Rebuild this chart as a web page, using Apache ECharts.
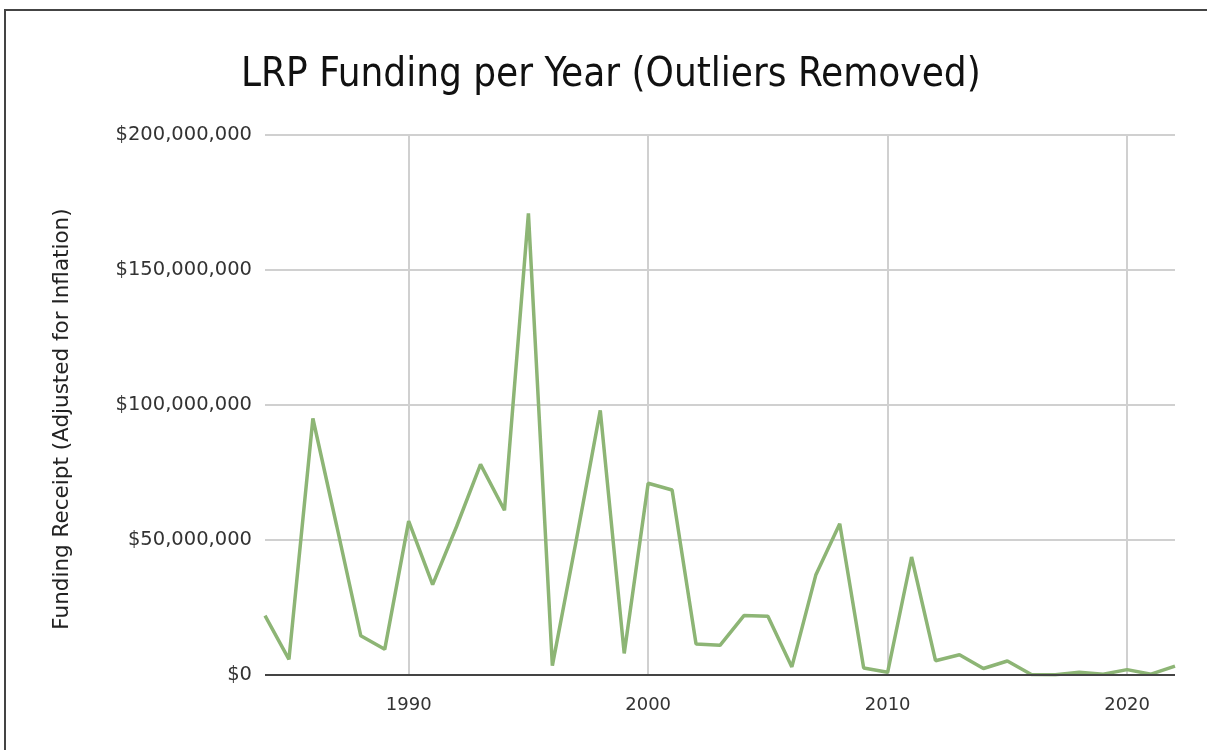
<!DOCTYPE html>
<html>
<head>
<meta charset="utf-8">
<script src="https://cdn.jsdelivr.net/npm/echarts@6/dist/echarts.min.js"></script>
<style>
html,body{margin:0;padding:0;background:#fff;width:1207px;height:750px;overflow:hidden;}
#frame{position:absolute;left:4px;top:9px;width:1220px;height:760px;border:2px solid #444;box-sizing:border-box;}
#chart{position:absolute;left:0;top:0;width:1207px;height:750px;}
</style>
</head>
<body>
<div id="frame"></div>
<div id="chart"></div>
<script>
const years = [1984,1985,1986,1987,1988,1989,1990,1991,1992,1993,1994,1995,1996,1997,1998,1999,2000,2001,2002,2003,2004,2005,2006,2007,2008,2009,2010,2011,2012,2013,2014,2015,2016,2017,2018,2019,2020,2021,2022];
const funding = [22000000,5800000,95000000,55000000,14500000,9500000,57000000,33500000,55000000,78000000,61000000,171000000,3500000,50000000,98000000,8000000,71000000,68500000,11500000,11000000,22000000,21800000,3000000,37000000,56000000,2600000,1000000,43700000,5300000,7500000,2400000,5200000,200000,100000,1000000,300000,2000000,300000,3300000];
const yTicks = [0,50000000,100000000,150000000,200000000];
const titleText = 'LRP Funding per Year (Outliers Removed)';
const yAxisName = 'Funding Receipt (Adjusted for Inflation)';

const chart = echarts.init(document.getElementById('chart'), null, {renderer:'canvas'});
const fmt = v => '$' + Math.round(v).toString().replace(/\B(?=(\d{3})+(?!\d))/g, ',');
chart.setOption({
  animation:false,
  backgroundColor:'transparent',
  title:{text:titleText,left:236,top:51,textStyle:{fontFamily:'DejaVu Sans Condensed, DejaVu Sans',fontWeight:'normal',fontSize:40,color:'#111'}},
  grid:{left:265,right:32,top:135,bottom:75,containLabel:false},
  xAxis:{type:'category',data:years.map(String),boundaryGap:false,
    axisLine:{show:false},axisTick:{show:false},
    axisLabel:{interval:(i,v)=>(+v)%10===0,fontFamily:'DejaVu Sans',fontSize:18,color:'#333',margin:21},
    splitLine:{show:true,interval:(i,v)=>(+v)%10===0,lineStyle:{color:'#d0d0d0',width:2}}},
  yAxis:{type:'value',min:yTicks[0],max:yTicks[yTicks.length-1],interval:50000000,
    name:yAxisName,nameLocation:'middle',nameGap:192,
    nameTextStyle:{fontFamily:'DejaVu Sans',fontSize:21.5,color:'#222',padding:[0,28,0,0]},
    axisLine:{show:false},axisTick:{show:false},
    axisLabel:{formatter:fmt,fontFamily:'DejaVu Sans',fontSize:19.5,color:'#333',margin:13,padding:[4,0,0,0]},
    splitLine:{show:true,lineStyle:{color:'#d0d0d0',width:2}}},
  series:[{type:'line',data:funding,symbol:'none',lineStyle:{color:'#8db575',width:3.5},
    markLine:{silent:true,symbol:'none',label:{show:false},lineStyle:{color:'#444',width:2,type:'solid'},data:[{yAxis:0}]}}]
});
</script>
</body>
</html>
